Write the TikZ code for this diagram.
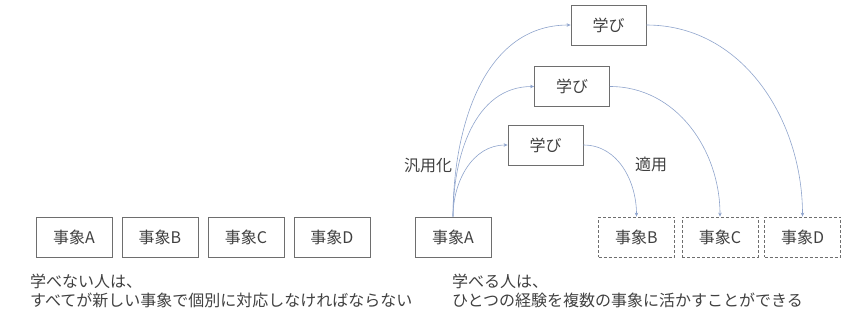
\documentclass[tikz,border=0pt]{standalone}
\usepackage{fontspec}
\setmainfont{Noto Sans CJK JP}
\usetikzlibrary{arrows.meta}
\definecolor{txt}{HTML}{404040}
\definecolor{edge}{HTML}{6E6E6E}
\definecolor{arr}{HTML}{8FA4CC}
\begin{document}
\begin{tikzpicture}[x=1pt,y=-1pt,
  font=\fontsize{16}{18}\selectfont, text=txt,
  evbox/.style={draw=edge, line width=0.8pt, minimum width=76pt, minimum height=40pt, inner sep=0pt},
  dashbox/.style={evbox, densely dashed},
  learnbox/.style={evbox, minimum width=75pt},
  flow/.style={draw=arr, line width=0.6pt, -{Stealth[length=4pt,width=3.5pt]}}]
\useasboundingbox (0,0) rectangle (860,330);
% left group
\node[evbox] (lA) at (74,237) {事象A};
\node[evbox] (lB) at (160,237) {事象B};
\node[evbox] (lC) at (246,237) {事象C};
\node[evbox] (lD) at (332,237) {事象D};
\node[anchor=west, inner sep=0pt] (lt1) at (30,281) {学べない人は、};
\node[anchor=west, inner sep=0pt] (lt2) at (30,300) {すべてが新しい事象で個別に対応しなければならない};
% right group
\node[evbox] (rA) at (453,237) {事象A};
\node[dashbox] (rB) at (636.5,237) {事象B};
\node[dashbox] (rC) at (720,237) {事象C};
\node[dashbox] (rD) at (802.5,237) {事象D};
\node[learnbox] (g1) at (545.5,145) {学び};
\node[learnbox] (g2) at (572,86.5) {学び};
\node[learnbox] (g3) at (608.5,25) {学び};
\node[inner sep=0pt] (gen) at (428,166) {汎用化};
\node[inner sep=0pt] (app) at (651,164) {適用};
\node[anchor=west, inner sep=0pt] (rt1) at (452,281) {学べる人は、};
\node[anchor=west, inner sep=0pt] (rt2) at (452,300) {ひとつの経験を複数の事象に活かすことができる};
% arrows
\draw[flow] (rA.north) to[out=90,in=180] (g1.west);
\draw[flow] (rA.north) to[out=90,in=180] (g2.west);
\draw[flow] (rA.north) to[out=90,in=180] (g3.west);
\draw[flow] (g1.east) to[out=0,in=90] (rB.north);
\draw[flow] (g2.east) to[out=0,in=90] (rC.north);
\draw[flow] (g3.east) to[out=0,in=90] (rD.north);
\end{tikzpicture}
\end{document}
